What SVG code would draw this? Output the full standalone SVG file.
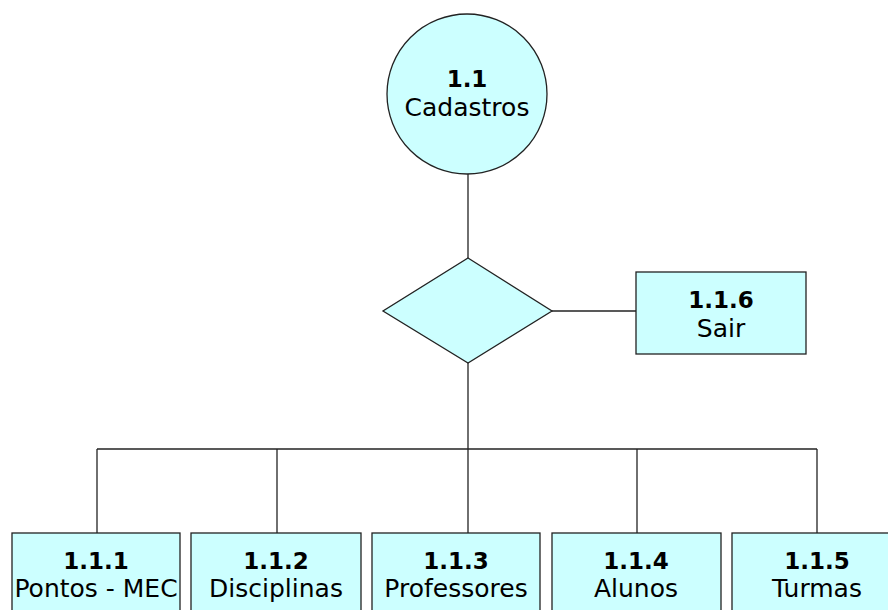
<svg xmlns="http://www.w3.org/2000/svg" width="888" height="610" viewBox="0 0 888 610">
<style>
.n{fill:#ccffff;stroke:#222;stroke-width:1.3}
.c{fill:none;stroke:#222;stroke-width:1.3}
.b{font-family:"DejaVu Sans",Verdana,sans-serif;font-weight:bold;font-size:23px;fill:#000;text-anchor:middle}
.t{font-family:"DejaVu Sans",Verdana,sans-serif;font-size:25px;fill:#000;text-anchor:middle}
</style>
<rect width="888" height="610" fill="#fff"/>
<g id="connectors">
<line class="c" x1="468" y1="174" x2="468" y2="258"/>
<line class="c" x1="552" y1="311" x2="636" y2="311"/>
<line class="c" x1="468" y1="363" x2="468" y2="449"/>
<line class="c" x1="97" y1="449" x2="817" y2="449"/>
<line class="c" x1="97" y1="449" x2="97" y2="533"/>
<line class="c" x1="277" y1="449" x2="277" y2="533"/>
<line class="c" x1="468" y1="449" x2="468" y2="533"/>
<line class="c" x1="637" y1="449" x2="637" y2="533"/>
<line class="c" x1="817" y1="449" x2="817" y2="533"/>
</g>
<g id="n11">
<circle class="n" cx="467" cy="94" r="80"/>
<text class="b" x="467" y="87">1.1</text>
<text class="t" x="467" y="116">Cadastros</text>
</g>
<g id="decision">
<polygon class="n" points="468,258 552,311 468,363 383,311"/>
</g>
<g id="n116">
<rect class="n" x="636" y="272" width="170" height="82"/>
<text class="b" x="721" y="308">1.1.6</text>
<text class="t" x="721" y="337">Sair</text>
</g>
<g id="n111">
<rect class="n" x="12" y="533" width="168" height="90"/>
<text class="b" x="96" y="569">1.1.1</text>
<text class="t" x="96" y="597">Pontos - MEC</text>
</g>
<g id="n112">
<rect class="n" x="191" y="533" width="170" height="90"/>
<text class="b" x="276" y="569">1.1.2</text>
<text class="t" x="276" y="597">Disciplinas</text>
</g>
<g id="n113">
<rect class="n" x="372" y="533" width="168" height="90"/>
<text class="b" x="456" y="569">1.1.3</text>
<text class="t" x="456" y="597">Professores</text>
</g>
<g id="n114">
<rect class="n" x="552" y="533" width="169" height="90"/>
<text class="b" x="636" y="569">1.1.4</text>
<text class="t" x="636" y="597">Alunos</text>
</g>
<g id="n115">
<rect class="n" x="732" y="533" width="170" height="90"/>
<text class="b" x="817" y="569">1.1.5</text>
<text class="t" x="817" y="597">Turmas</text>
</g>
</svg>
